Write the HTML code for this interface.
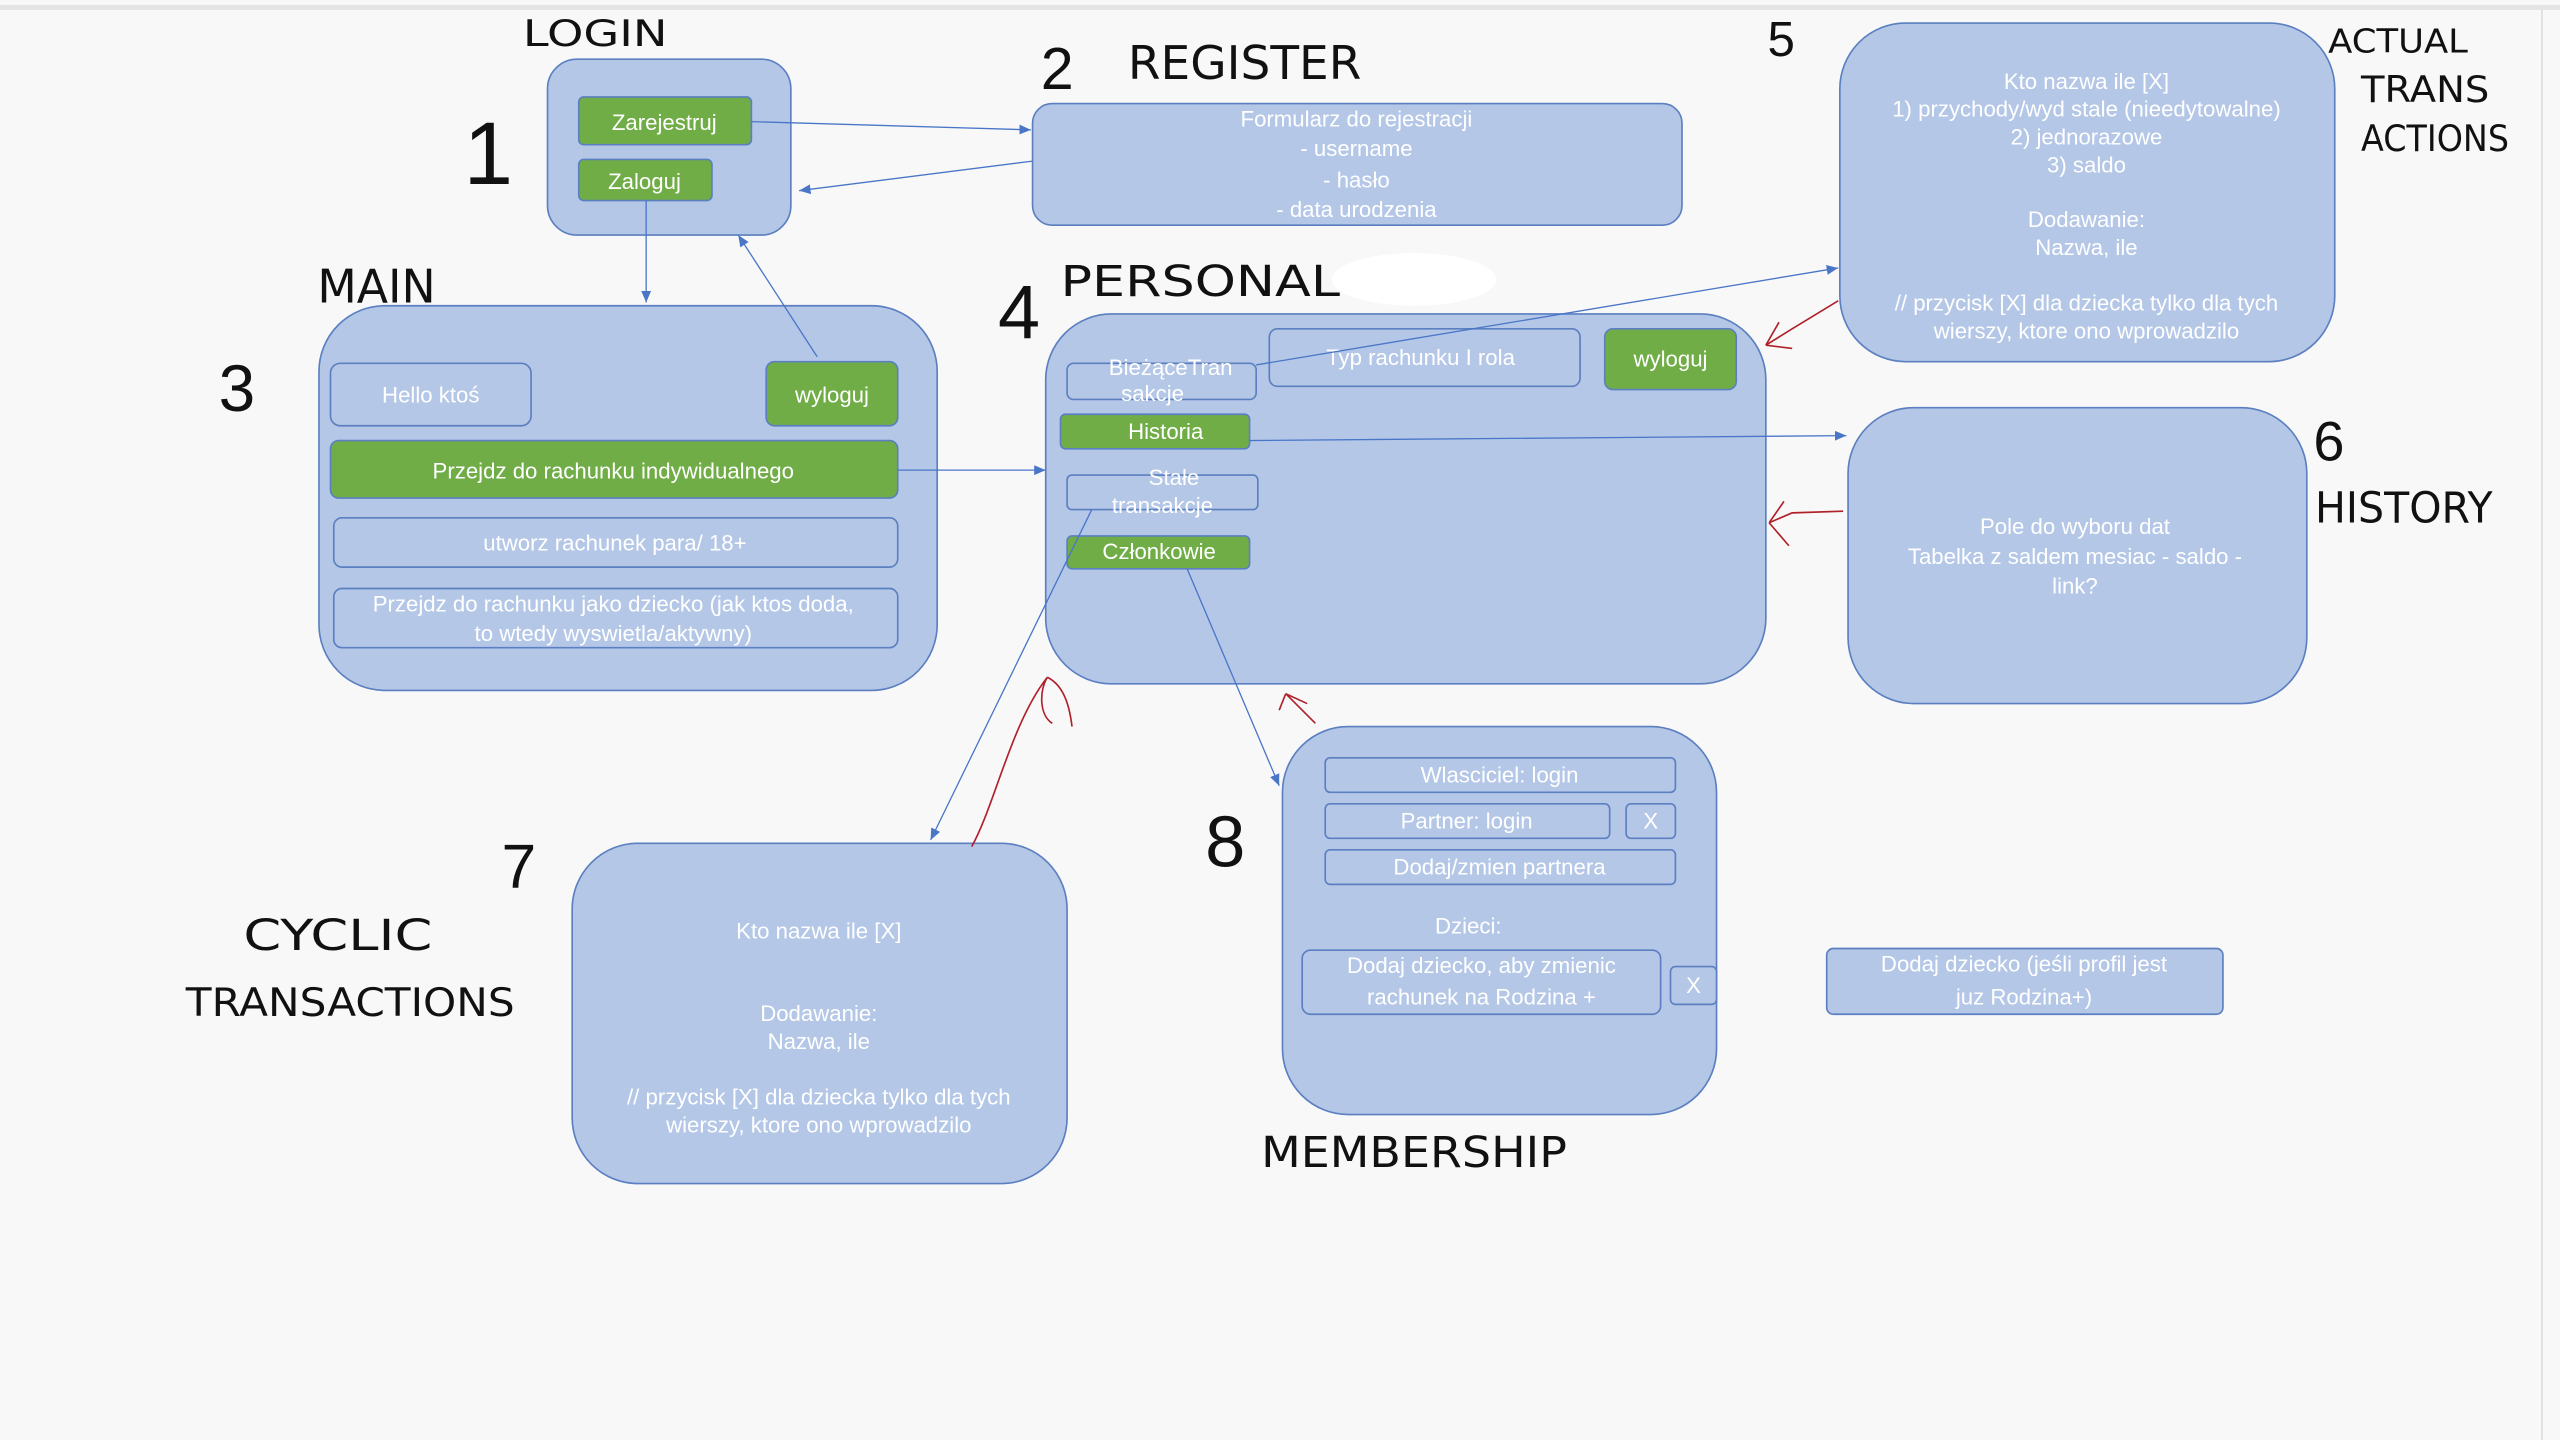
<!DOCTYPE html>
<html><head><meta charset="utf-8"><style>
html,body{margin:0;padding:0;background:#f8f8f8;}
svg{display:block;}
.b{fill:#b4c7e7;stroke:#5b7fc0;stroke-width:1;}
.g{fill:#70ad47;stroke:#5b7fc0;stroke-width:1;}
.t{fill:#fff;font-family:"Liberation Sans Narrow","Liberation Sans",sans-serif;font-size:13.5px;text-anchor:middle;}
.h{fill:#111;font-family:"DejaVu Sans","Liberation Sans",sans-serif;font-weight:normal;}
.n{fill:#111;font-family:"Liberation Sans",sans-serif;font-weight:normal;}
.a{stroke:#4a76c8;stroke-width:0.8;fill:none;}
.r{stroke:#b0202a;stroke-width:1;fill:none;}
</style></head><body>
<svg width="2560" height="1440" viewBox="0 0 1557 876" preserveAspectRatio="none" xmlns="http://www.w3.org/2000/svg">
<defs><marker id="m" markerWidth="8" markerHeight="8" refX="7" refY="4" orient="auto" markerUnits="userSpaceOnUse"><path d="M0,1 L7,4 L0,7 z" fill="#4a76c8"/></marker></defs>
<rect x="0" y="0" width="1557" height="876" fill="#f8f8f8"/>
<rect x="0" y="3" width="1557" height="3" fill="#e4e4e4"/>
<line x1="1546" y1="6" x2="1546" y2="876" stroke="#ddd"/>

<rect class="b" x="333" y="36" width="148" height="107" rx="18"/>
<rect class="g" x="352" y="59" width="105" height="29" rx="3"/><text class="t" x="404" y="79">Zarejestruj</text>
<rect class="g" x="352" y="97" width="81" height="25" rx="3"/><text class="t" x="392" y="115">Zaloguj</text>

<rect class="b" x="628" y="63" width="395" height="74" rx="12"/>
<text class="t" x="825" y="77">Formularz do rejestracji</text>
<text class="t" x="825" y="95">- username</text>
<text class="t" x="825" y="114">- hasło</text>
<text class="t" x="825" y="132">- data urodzenia</text>

<rect class="b" x="194" y="186" width="376" height="234" rx="40"/>
<rect class="b" x="201" y="221" width="122" height="38" rx="6"/><text class="t" x="262" y="245">Hello ktoś</text>
<rect class="g" x="466" y="220" width="80" height="39" rx="5"/><text class="t" x="506" y="245">wyloguj</text>
<rect class="g" x="201" y="268" width="345" height="35" rx="5"/><text class="t" x="373" y="291">Przejdz do rachunku indywidualnego</text>
<rect class="b" x="203" y="315" width="343" height="30" rx="5"/><text class="t" x="374" y="335">utworz rachunek para/ 18+</text>
<rect class="b" x="203" y="358" width="343" height="36" rx="5"/>
<text class="t" x="373" y="372">Przejdz do rachunku jako dziecko (jak ktos doda,</text>
<text class="t" x="373" y="390">to wtedy wyswietla/aktywny)</text>

<ellipse cx="860" cy="170" rx="50" ry="16" fill="#fff"/>
<rect class="b" x="636" y="191" width="438" height="225" rx="40"/>
<rect class="b" x="649" y="221" width="115" height="22" rx="4"/>
<text class="t" x="712" y="228">BieżąceTran</text><text class="t" x="701" y="244">sakcje</text>
<rect class="b" x="772" y="200" width="189" height="35" rx="5"/><text class="t" x="864" y="222">Typ rachunku I rola</text>
<rect class="g" x="976" y="200" width="80" height="37" rx="5"/><text class="t" x="1016" y="223">wyloguj</text>
<rect class="g" x="645" y="252" width="115" height="21" rx="3"/><text class="t" x="709" y="267">Historia</text>
<rect class="b" x="649" y="289" width="116" height="21" rx="3"/>
<text class="t" x="714" y="295">Stałe</text><text class="t" x="707" y="312">transakcje</text>
<rect class="g" x="649" y="326" width="111" height="20" rx="3"/><text class="t" x="705" y="340">Członkowie</text>

<rect class="b" x="1119" y="14" width="301" height="206" rx="40"/>
<text class="t" x="1269" y="54">Kto  nazwa ile [X]</text>
<text class="t" x="1269" y="71">1) przychody/wyd stale (nieedytowalne)</text>
<text class="t" x="1269" y="88">2) jednorazowe</text>
<text class="t" x="1269" y="105">3) saldo</text>
<text class="t" x="1269" y="138">Dodawanie:</text>
<text class="t" x="1269" y="155">Nazwa, ile</text>
<text class="t" x="1269" y="189">// przycisk [X] dla dziecka tylko dla tych</text>
<text class="t" x="1269" y="206">wierszy, ktore ono wprowadzilo</text>

<rect class="b" x="1124" y="248" width="279" height="180" rx="40"/>
<text class="t" x="1262" y="325">Pole do wyboru dat</text>
<text class="t" x="1262" y="343">Tabelka z saldem    mesiac - saldo -</text>
<text class="t" x="1262" y="361">link?</text>

<rect class="b" x="348" y="513" width="301" height="207" rx="40"/>
<text class="t" x="498" y="571">Kto  nazwa ile [X]</text>
<text class="t" x="498" y="621">Dodawanie:</text>
<text class="t" x="498" y="638">Nazwa, ile</text>
<text class="t" x="498" y="672">// przycisk [X] dla dziecka tylko dla tych</text>
<text class="t" x="498" y="689">wierszy, ktore ono wprowadzilo</text>

<rect class="b" x="780" y="442" width="264" height="236" rx="40"/>
<rect class="b" x="806" y="461" width="213" height="21" rx="3"/><text class="t" x="912" y="476">Wlasciciel: login</text>
<rect class="b" x="806" y="489" width="173" height="21" rx="3"/><text class="t" x="892" y="504">Partner: login</text>
<rect class="b" x="989" y="489" width="30" height="21" rx="3"/><text class="t" x="1004" y="504">X</text>
<rect class="b" x="806" y="517" width="213" height="21" rx="3"/><text class="t" x="912" y="532">Dodaj/zmien partnera</text>
<text class="t" x="893" y="568">Dzieci:</text>
<rect class="b" x="792" y="578" width="218" height="39" rx="5"/>
<text class="t" x="901" y="592">Dodaj dziecko, aby zmienic</text>
<text class="t" x="901" y="611">rachunek na Rodzina +</text>
<rect class="b" x="1016" y="588" width="28" height="23" rx="3"/><text class="t" x="1030" y="604">X</text>
<rect class="b" x="1111" y="577" width="241" height="40" rx="4"/>
<text class="t" x="1231" y="591">Dodaj dziecko (jeśli profil jest</text>
<text class="t" x="1231" y="611">juz Rodzina+)</text>

<line class="a" x1="457" y1="74" x2="627" y2="79" marker-end="url(#m)"/>
<line class="a" x1="628" y1="98" x2="486" y2="116" marker-end="url(#m)"/>
<line class="a" x1="393" y1="122" x2="393" y2="184" marker-end="url(#m)"/>
<line class="a" x1="497" y1="217" x2="449" y2="143" marker-end="url(#m)"/>
<line class="a" x1="546" y1="286" x2="636" y2="286" marker-end="url(#m)"/>
<line class="a" x1="764" y1="222" x2="1118" y2="163" marker-end="url(#m)"/>
<line class="a" x1="760" y1="268" x2="1123" y2="265" marker-end="url(#m)"/>
<line class="a" x1="664" y1="310" x2="566" y2="511" marker-end="url(#m)"/>
<line class="a" x1="722" y1="346" x2="778" y2="478" marker-end="url(#m)"/>

<path class="r" d="M1118,183 L1090,200 L1074,210 M1074,210 L1082,196 M1074,210 L1090,212"/>
<path class="r" d="M1121,311 L1090,312 L1076,318 M1076,318 L1085,305 M1076,318 L1088,332"/>
<path class="r" d="M591,515 C605,490 615,440 637,412 M637,412 C632,420 632,435 640,440 M637,412 C645,416 650,425 652,442"/>
<path class="r" d="M800,440 L782,422 M782,422 L778,432 M782,422 L795,428"/>

<text class="h" x="318" y="28" font-size="22" textLength="88" lengthAdjust="spacingAndGlyphs">LOGIN</text>
<text class="n" x="282" y="112" font-size="54">1</text>
<text class="n" x="633" y="54" font-size="36">2</text>
<text class="h" x="686" y="48" font-size="28" textLength="142" lengthAdjust="spacingAndGlyphs">REGISTER</text>
<text class="h" x="193" y="184" font-size="28" textLength="72" lengthAdjust="spacingAndGlyphs">MAIN</text>
<text class="n" x="133" y="250" font-size="40">3</text>
<text class="n" x="607" y="206" font-size="46">4</text>
<text class="h" x="645" y="180" font-size="26" textLength="170" lengthAdjust="spacingAndGlyphs">PERSONAL</text>
<text class="n" x="1075" y="34" font-size="30">5</text>
<text class="h" x="1416" y="32" font-size="20" textLength="85" lengthAdjust="spacingAndGlyphs">ACTUAL</text>
<text class="h" x="1436" y="62" font-size="22" textLength="78" lengthAdjust="spacingAndGlyphs">TRANS</text>
<text class="h" x="1436" y="92" font-size="22" textLength="90" lengthAdjust="spacingAndGlyphs">ACTIONS</text>
<text class="n" x="1407" y="280" font-size="34">6</text>
<text class="h" x="1408" y="318" font-size="26" textLength="108" lengthAdjust="spacingAndGlyphs">HISTORY</text>
<text class="n" x="305" y="540" font-size="38">7</text>
<text class="h" x="148" y="578" font-size="26" textLength="115" lengthAdjust="spacingAndGlyphs">CYCLIC</text>
<text class="h" x="113" y="618" font-size="24" textLength="200" lengthAdjust="spacingAndGlyphs">TRANSACTIONS</text>
<text class="n" x="733" y="527" font-size="44">8</text>
<text class="h" x="767" y="710" font-size="26" textLength="186" lengthAdjust="spacingAndGlyphs">MEMBERSHIP</text>
</svg>
</body></html>
